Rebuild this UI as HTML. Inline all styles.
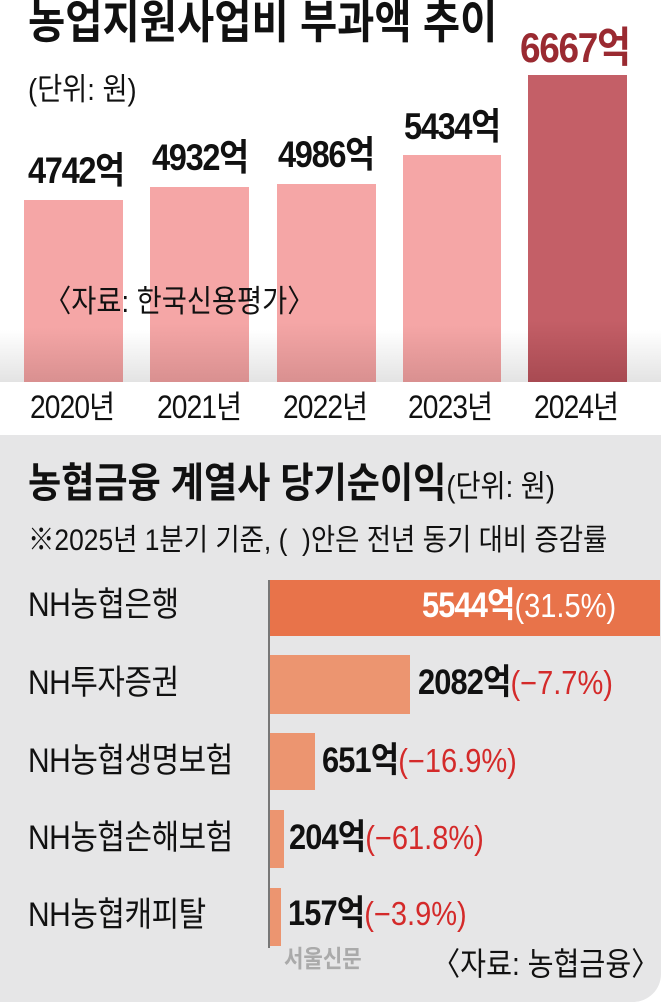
<!DOCTYPE html>
<html><head><meta charset="utf-8"><style>
body{margin:0;width:661px;height:1002px;position:relative;overflow:hidden;background:#fff;font-family:"Liberation Sans","Noto Sans CJK KR",sans-serif;}
.a{position:absolute;white-space:nowrap;line-height:1.15;}
.c{transform:scaleX(0.88);transform-origin:left top;}
.bar{position:absolute;}
.v{font-weight:bold;font-size:37px;color:#111;letter-spacing:-1.5px;}
.yr{font-size:32px;color:#111;letter-spacing:-1px;}
.lab{font-size:34px;color:#111;letter-spacing:-0.5px;}
.n{font-weight:bold;font-size:35px;color:#111;letter-spacing:-1px;}
.p{font-size:33px;color:#d42a2a;}
</style></head><body>
<div class="a" style="left:0;top:330px;width:661px;height:52px;background:linear-gradient(#fff,#e3e3e3);"></div>
<div class="a c" style="left:28px;top:-4px;font-size:46px;font-weight:bold;color:#111;">농업지원사업비 부과액 추이</div>
<div class="a c" style="left:28px;top:72px;font-size:31px;color:#111;">(단위: 원)</div>
<div class="bar" style="left:24px;top:200px;width:99px;height:182px;background:linear-gradient(#f5a6a6 70%,#d99090);"></div>
<div class="bar" style="left:150px;top:187px;width:99px;height:195px;background:linear-gradient(#f5a6a6 70%,#d99090);"></div>
<div class="bar" style="left:277px;top:184px;width:99px;height:198px;background:linear-gradient(#f5a6a6 70%,#d99090);"></div>
<div class="bar" style="left:403px;top:155px;width:98px;height:227px;background:linear-gradient(#f5a6a6 75%,#d99090);"></div>
<div class="bar" style="left:528px;top:75px;width:99px;height:307px;background:linear-gradient(#c45f67 80%,#a84a52);"></div>
<div class="a c v" style="left:28px;top:150px;">4742억</div>
<div class="a c v" style="left:152px;top:137px;">4932억</div>
<div class="a c v" style="left:278px;top:134px;">4986억</div>
<div class="a c v" style="left:404px;top:106px;">5434억</div>
<div class="a c v" style="left:520px;top:24px;color:#9a2a31;font-size:42px;">6667억</div>
<div class="a c" style="left:44px;top:284px;font-size:31px;color:#111;">〈자료: 한국신용평가〉</div>
<div class="a c yr" style="left:30px;top:389px;">2020년</div>
<div class="a c yr" style="left:157px;top:389px;">2021년</div>
<div class="a c yr" style="left:283px;top:389px;">2022년</div>
<div class="a c yr" style="left:408px;top:389px;">2023년</div>
<div class="a c yr" style="left:534px;top:389px;">2024년</div>
<div class="a" style="left:0;top:435px;width:661px;height:567px;background:#e6e6e7;border-bottom-right-radius:28px;"></div>
<div class="a c" style="left:28px;top:460px;font-size:41px;font-weight:bold;color:#111;">농협금융 계열사 당기순이익<span style="font-weight:normal;font-size:31px;">(단위: 원)</span></div>
<div class="a c" style="left:28px;top:524px;font-size:30px;color:#111;">※2025년 1분기 기준, (&nbsp;&nbsp;)안은 전년 동기 대비 증감률</div>
<div class="a" style="left:268px;top:580px;width:2px;height:368px;background:#777;"></div>
<div class="bar" style="left:270px;top:580px;width:390px;height:56px;background:#e8734a;"></div>
<div class="bar" style="left:270px;top:655px;width:140px;height:59px;background:#ec9570;"></div>
<div class="bar" style="left:270px;top:733px;width:45px;height:57px;background:#ec9570;"></div>
<div class="bar" style="left:270px;top:810px;width:14px;height:58px;background:#ec9570;"></div>
<div class="bar" style="left:270px;top:888px;width:11px;height:58px;background:#ec9570;"></div>
<div class="a c lab" style="left:28px;top:586px;">NH농협은행</div>
<div class="a c lab" style="left:28px;top:664px;">NH투자증권</div>
<div class="a c lab" style="left:28px;top:742px;">NH농협생명보험</div>
<div class="a c lab" style="left:28px;top:819px;">NH농협손해보험</div>
<div class="a c lab" style="left:28px;top:896px;">NH농협캐피탈</div>
<div class="a c" style="left:422px;top:586px;"><span class="n" style="color:#fff;">5544억</span><span class="p" style="color:#fff;">(31.5%)</span></div>
<div class="a c" style="left:418px;top:663px;"><span class="n">2082억</span><span class="p">(−7.7%)</span></div>
<div class="a c" style="left:322px;top:741px;"><span class="n">651억</span><span class="p">(−16.9%)</span></div>
<div class="a c" style="left:289px;top:818px;"><span class="n">204억</span><span class="p">(−61.8%)</span></div>
<div class="a c" style="left:288px;top:894px;"><span class="n">157억</span><span class="p">(−3.9%)</span></div>
<div class="a c" style="left:284px;top:946px;font-size:24px;font-weight:bold;color:#aaa;">서울신문</div>
<div class="a c" style="left:432px;top:946px;font-size:32px;color:#111;">〈자료: 농협금융〉</div>
</body></html>
